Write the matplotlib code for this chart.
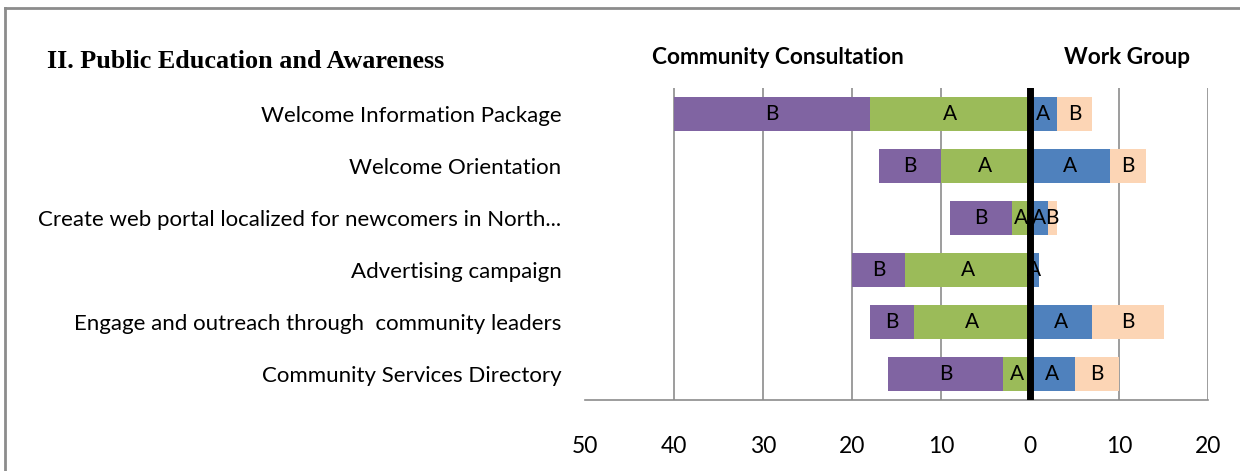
import matplotlib.pyplot as plt

categories = ['Welcome Information Package',
              'Welcome Orientation',
              'Create web portal localized for newcomers in North...',
              'Advertising campaign',
              'Engage and outreach through  community leaders',
              'Community Services Directory']
cc_a = [18, 10, 2, 14, 13, 3]    # Community Consultation A
cc_b = [22, 7, 7, 6, 5, 13]      # Community Consultation B
wg_a = [3, 9, 2, 1, 7, 5]        # Work Group A
wg_b = [4, 4, 1, 0, 8, 5]        # Work Group B
ticks = [-50, -40, -30, -20, -10, 0, 10, 20]

purple = '#8064A2'
green = '#9BBB59'
blue = '#4F81BD'
peach = '#FCD5B5'
font = ['Lato', 'DejaVu Sans']

fig = plt.figure(figsize=(12.4, 4.71), dpi=100)
ax = fig.add_axes([585 / 1240, 1 - 400 / 471, 623 / 1240, 312 / 471])

y = list(range(len(categories)))
h = 0.65
neg_a = [-v for v in cc_a]

segs = [
    ax.barh(y, neg_a, height=h, color=green, zorder=3),
    ax.barh(y, [-v for v in cc_b], left=neg_a, height=h, color=purple, zorder=3),
    ax.barh(y, wg_a, height=h, color=blue, zorder=3),
    ax.barh(y, wg_b, left=wg_a, height=h, color=peach, zorder=3),
]
letters = ['A', 'B', 'A', 'B']
for bars, letter in zip(segs, letters):
    for rect in bars:
        w = rect.get_width()
        if w == 0:
            continue
        cx = rect.get_x() + w / 2
        ax.text(cx, rect.get_y() + rect.get_height() / 2, letter,
                ha='center', va='center', fontsize=15, family=font, zorder=4)

ax.set_xlim(-50, 20)
ax.set_ylim(len(categories) - 0.5, -0.5)
for t in ticks[1:]:
    ax.axvline(t, color='#8c8c8c', lw=1.2, zorder=1)
ax.axvline(0, color='black', lw=5, zorder=5)

ax.set_yticks(y)
ax.set_yticklabels(categories, fontsize=16, family=font)
ax.set_xticks(ticks)
ax.set_xticklabels([str(abs(t)) for t in ticks], fontsize=16.5, family=font)
ax.tick_params(axis='y', length=0, pad=17)
ax.tick_params(axis='x', length=0, pad=26)
for s in ['top', 'left', 'right']:
    ax.spines[s].set_visible(False)
ax.spines['bottom'].set_color('#8c8c8c')
ax.spines['bottom'].set_linewidth(1.2)

fig.text(47 / 1240, 1 - 62 / 471, 'II. Public Education and Awareness',
         fontsize=18.8, fontweight='bold', family='Liberation Serif', va='center')
fig.text(778 / 1240, 1 - 58 / 471, 'Community Consultation',
         fontsize=16.3, fontweight='bold', family=font, ha='center', va='center')
fig.text(1127 / 1240, 1 - 58 / 471, 'Work Group',
         fontsize=16.3, fontweight='bold', family=font, ha='center', va='center')

# frame lines at top and left
fig.add_artist(plt.Line2D([5 / 1240, 1], [1 - 8 / 471, 1 - 8 / 471], color='#8c8c8c', lw=2))
fig.add_artist(plt.Line2D([5 / 1240, 5 / 1240], [0, 1 - 8 / 471], color='#8c8c8c', lw=2))

fig.savefig('out.png', dpi=100)
